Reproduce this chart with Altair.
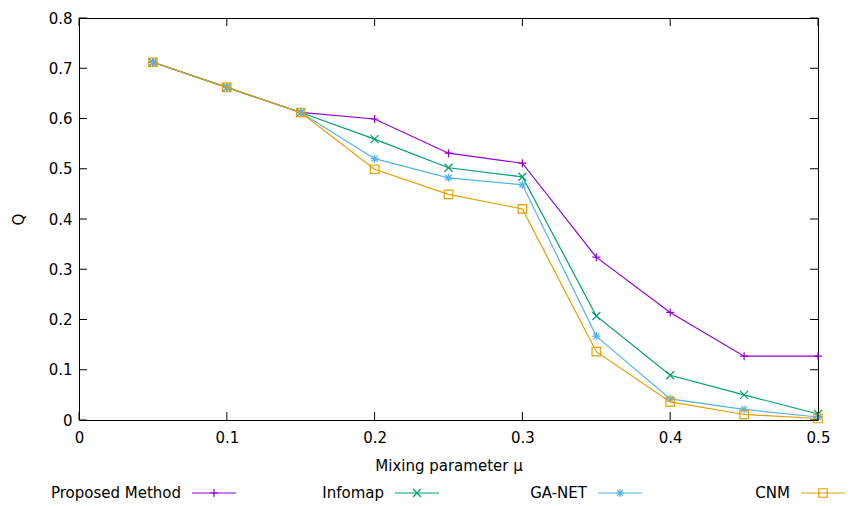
import altair as alt
import pandas as pd

# ---- data ----
mu = [0.05, 0.1, 0.15, 0.2, 0.25, 0.3, 0.35, 0.4, 0.45, 0.5]
proposed = [0.712, 0.662, 0.612, 0.599, 0.531, 0.511, 0.324, 0.214, 0.127, 0.127]
infomap = [0.712, 0.662, 0.612, 0.559, 0.502, 0.484, 0.207, 0.089, 0.050, 0.012]
ganet = [0.712, 0.662, 0.612, 0.520, 0.482, 0.468, 0.167, 0.042, 0.021, 0.006]
cnm = [0.712, 0.662, 0.612, 0.499, 0.449, 0.420, 0.136, 0.036, 0.011, 0.003]

names = ["Proposed Method", "Infomap", "GA-NET", "CNM"]
series_vals = [proposed, infomap, ganet, cnm]
x_ticks = [0, 0.1, 0.2, 0.3, 0.4, 0.5]
y_ticks = [0, 0.1, 0.2, 0.3, 0.4, 0.5, 0.6, 0.7, 0.8]

# ---- styles ----
colors = ["#9400d3", "#009e73", "#56b4e9", "#e69f00"]
shapes = [
    "M-1,0L1,0M0,-1L0,1",
    "M-1,-1L1,1M-1,1L1,-1",
    "M-1,0L1,0M0,-1L0,1M-0.75,-0.75L0.75,0.75M-0.75,0.75L0.75,-0.75",
    "square",
]
sizes = [64, 64, 64, 72]
FONT = "DejaVu Sans"
W, H = 739, 402
TICK = 8
LEG_Y = 475

xs = alt.Scale(domain=[0, 0.5], nice=False, zero=False)
ys = alt.Scale(domain=[0, 0.8], nice=False, zero=False)

x_axis = alt.Axis(values=x_ticks, format="~g", title="Mixing parameter μ", domain=False,
                  ticks=False, grid=False, labelPadding=10, titlePadding=13, labelFlush=False)
y_axis = alt.Axis(values=y_ticks, format="~g", title="Q", domain=False,
                  ticks=False, grid=False, labelPadding=7, titlePadding=22, labelFlush=False)


def xenc(f):
    return alt.X(f, type="quantitative", scale=xs, axis=x_axis)


def yenc(f):
    return alt.Y(f, type="quantitative", scale=ys, axis=y_axis)


main_layers = []
for name, vals, c, sh, sz in zip(names, series_vals, colors, shapes, sizes):
    df = pd.DataFrame({"mu": mu, "Q": vals})
    base = alt.Chart(df)
    main_layers.append(base.mark_line(color=c, strokeWidth=1.2).encode(x=xenc("mu"), y=yenc("Q")))
    main_layers.append(base.mark_point(shape=sh, size=sz, color=c, filled=False, strokeWidth=1.2,
                                       opacity=1).encode(x=xenc("mu"), y=yenc("Q")))

# inward ticks on all four sides (gnuplot style)
xt = pd.DataFrame({"v": x_ticks})
yt = pd.DataFrame({"v": y_ticks})
main_layers.append(alt.Chart(xt).mark_rule(color="black", strokeWidth=1).encode(
    x=xenc("v"), y=alt.value(H), y2=alt.value(H - TICK)))
main_layers.append(alt.Chart(xt).mark_rule(color="black", strokeWidth=1).encode(
    x=xenc("v"), y=alt.value(0), y2=alt.value(TICK)))
main_layers.append(alt.Chart(yt).mark_rule(color="black", strokeWidth=1).encode(
    y=yenc("v"), x=alt.value(0), x2=alt.value(TICK)))
main_layers.append(alt.Chart(yt).mark_rule(color="black", strokeWidth=1).encode(
    y=yenc("v"), x=alt.value(W), x2=alt.value(W - TICK)))

main = alt.layer(*main_layers)

# legend below the plot, gnuplot style: label then sample
lscale = alt.Scale(type="point", domain=names, range=[135, 744], padding=0)
leg_layers = []
for name, c, sh, sz in zip(names, colors, shapes, sizes):
    ldf = pd.DataFrame({"series": [name]})
    lb = alt.Chart(ldf)
    lx = alt.X("series:N", scale=lscale, axis=None)
    leg_layers.append(lb.mark_text(align="right", baseline="middle", dx=-33, font=FONT,
                                   fontSize=15, color="black").encode(
        x=lx, y=alt.value(LEG_Y), text="series:N"))
    leg_layers.append(lb.mark_rule(color=c, strokeWidth=1.2, xOffset=-22, x2Offset=22).encode(
        x=lx, x2=alt.X2("series"), y=alt.value(LEG_Y)))
    leg_layers.append(lb.mark_point(shape=sh, size=sz, color=c, filled=False, strokeWidth=1.2,
                                    opacity=1).encode(x=lx, y=alt.value(LEG_Y)))
legend = alt.layer(*leg_layers)

chart = (
    alt.layer(main, legend)
    .resolve_scale(x="independent")
    .properties(width=W, height=H,
                autosize=alt.AutoSizeParams(type="none"),
                padding={"left": 71, "top": 10, "right": 35, "bottom": 86})
    .configure_view(stroke="black", strokeWidth=1)
    .configure_axis(labelFont=FONT, titleFont=FONT, labelFontSize=15, titleFontSize=15,
                    labelColor="black", titleColor="black", titleFontWeight="normal")
)

chart.save("out.html", embed_options={"renderer": "svg", "actions": False})
